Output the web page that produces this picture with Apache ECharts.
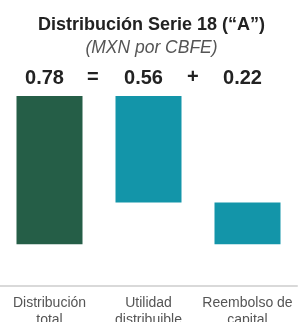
<!DOCTYPE html>
<html>
<head>
<meta charset="utf-8">
<script src="https://cdn.jsdelivr.net/npm/echarts@6/dist/echarts.min.js"></script>
<style>html,body{margin:0;padding:0;background:#fff}#c{width:303px;height:322px}</style>
</head>
<body>
<div id="c"></div>
<script>
const categories = ['Distribución\ntotal', 'Utilidad\ndistribuible', 'Reembolso de\ncapital'];
const values = [0.78, 0.56, 0.22];
const bases = [0, 0, 0.56];
const barColors = ['#255E47', '#1395A9', '#1395A9'];
const operators = ['=', '+'];

const chart = echarts.init(document.getElementById('c'), null, {renderer: 'canvas'});
const font = '"Liberation Sans", Arial, sans-serif';
chart.setOption({
  animation: false,
  backgroundColor: '#fff',
  title: [
    {text: 'Distribución Serie 18 (“A”)', left: 'center', top: 11,
     textStyle: {fontFamily: font, fontSize: 18, fontWeight: 'bold', color: '#222'}},
    {text: '(MXN por CBFE)', left: 'center', top: 34,
     textStyle: {fontFamily: font, fontSize: 17.5, fontStyle: 'italic', fontWeight: 'normal', color: '#555'}}
  ],
  graphic: [
    {type: 'text', left: 87, top: 67, style: {text: operators[0], font: 'bold 20px ' + font, fill: '#222'}},
    {type: 'text', left: 187, top: 67, style: {text: operators[1], font: 'bold 20px ' + font, fill: '#222'}}
  ],
  grid: {left: 0, right: 6, top: 96, bottom: 36, containLabel: false, outerBoundsMode: 'none'},
  xAxis: [
    {type: 'category', data: categories, position: 'bottom',
     axisLine: {show: true, onZero: false, lineStyle: {color: '#d9d9d9', width: 2}},
     axisTick: {show: false},
     axisLabel: {fontFamily: font, fontSize: 14, color: '#555', lineHeight: 17, margin: 9, interval: 0}},
    {type: 'category', data: values.map(v => v.toFixed(2)), position: 'top',
     axisLine: {show: false, onZero: false}, axisTick: {show: false},
     axisLabel: {fontFamily: font, fontSize: 20, fontWeight: 'bold', color: '#222', margin: 8,
                 padding: [0, 10, 0, 0], interval: 0}}
  ],
  yAxis: {type: 'value', inverse: true, min: 0, max: 1, show: false, splitLine: {show: false}},
  series: [
    {type: 'bar', stack: 'w', data: bases, barWidth: 66, itemStyle: {color: 'transparent'}, silent: true},
    {type: 'bar', stack: 'w', barWidth: 66,
     data: values.map((v, i) => ({value: v, itemStyle: {color: barColors[i]}}))}
  ]
});
</script>
</body>
</html>
